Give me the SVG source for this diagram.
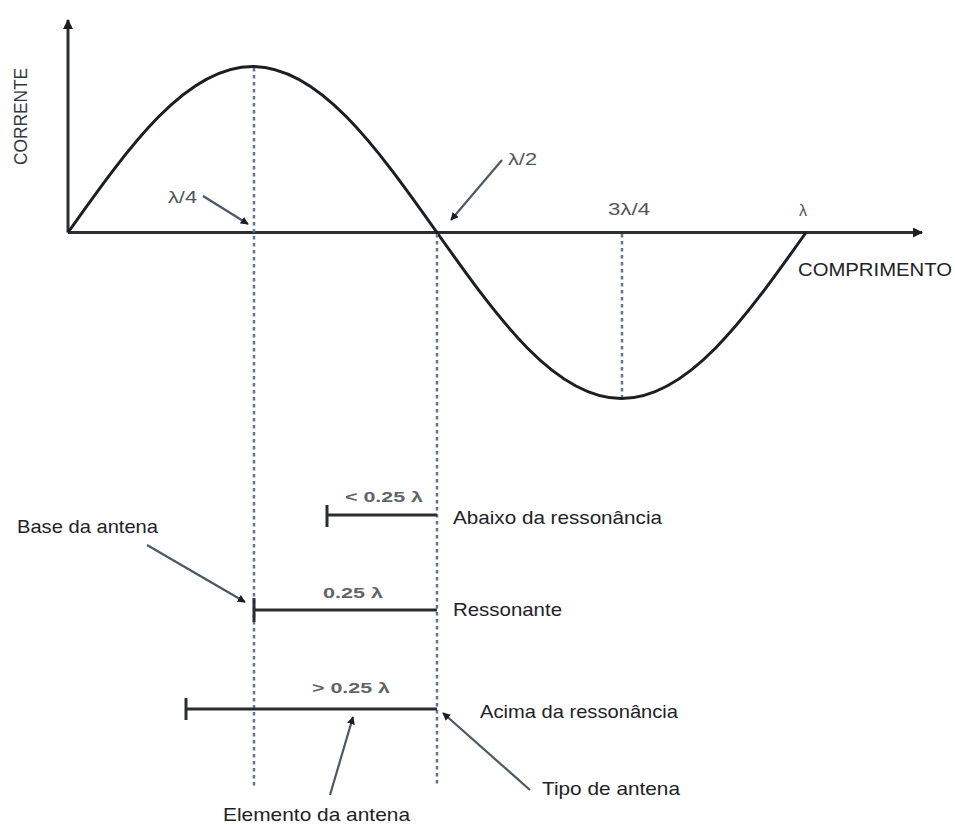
<svg xmlns="http://www.w3.org/2000/svg" width="955" height="825" viewBox="0 0 955 825">
<defs>
<style>
.axis{stroke:#2b2f33;stroke-width:3;fill:none}
.wave{stroke:#1c1f22;stroke-width:3;fill:none}
.dash{stroke:#65758a;stroke-width:2.5;stroke-dasharray:3.5 3.5;fill:none}
.ptr{stroke:#4a5966;stroke-width:2.2;fill:none}
.bar{stroke:#2a2d30;stroke-width:3;fill:none}
.g{font-family:"Liberation Sans",Arial,sans-serif;fill:#50565c;font-size:16px}
.gb{font-family:"Liberation Sans",Arial,sans-serif;fill:#5f656b;font-size:15px;font-weight:bold}
.k{font-family:"Liberation Sans",Arial,sans-serif;fill:#1e2226;font-size:19px}
.ylab{font-family:"Liberation Sans",Arial,sans-serif;fill:#34393e;font-size:19px}
</style>
<marker id="ah" viewBox="0 0 10 10" refX="9" refY="5" markerWidth="8" markerHeight="8" markerUnits="userSpaceOnUse" orient="auto"><path d="M0,0 L10,5 L0,10 z" fill="#1c1f22"/></marker>
<marker id="ax" viewBox="0 0 10 10" refX="9" refY="5" markerWidth="10" markerHeight="10" markerUnits="userSpaceOnUse" orient="auto"><path d="M0,0 L10,5 L0,10 z" fill="#1c1f22"/></marker>
</defs>
<rect width="955" height="825" fill="#ffffff"/>
<g id="axes">
<line class="axis" x1="68" y1="232.5" x2="68" y2="20" marker-end="url(#ax)"/>
<line class="axis" x1="68" y1="232.5" x2="922" y2="232.5" marker-end="url(#ax)"/>
<text class="ylab" transform="translate(27,116.5) rotate(-90)" text-anchor="middle" textLength="97" lengthAdjust="spacingAndGlyphs">CORRENTE</text>
<text class="k" x="798" y="276" textLength="154" lengthAdjust="spacingAndGlyphs">COMPRIMENTO</text>
</g>
<g id="wave">
<path class="wave" d="M68,232.5 C129.68,145.33 186.43,66.5 252.5,66.5 C318.57,66.5 375.32,145.33 437,232.5 C498.68,319.67 555.43,398.5 621.5,398.5 C687.57,398.5 744.32,319.67 806,232.5"/>
</g>
<g id="guides">
<line class="dash" x1="254" y1="68" x2="254" y2="787"/>
<line class="dash" x1="437" y1="234" x2="437" y2="787"/>
<line class="dash" x1="622" y1="234" x2="622" y2="397"/>
</g>
<g id="wave-labels">
<text class="g" x="168" y="203" textLength="29" lengthAdjust="spacingAndGlyphs">λ/4</text>
<text class="g" x="508" y="165" textLength="29" lengthAdjust="spacingAndGlyphs">λ/2</text>
<text class="g" x="608" y="215" textLength="42" lengthAdjust="spacingAndGlyphs">3λ/4</text>
<text class="g" x="799" y="216">λ</text>
</g>
<g id="bar-below">
<line class="bar" x1="327" y1="515" x2="437" y2="515"/>
<line class="bar" x1="327" y1="505" x2="327" y2="527"/>
<text class="gb" x="345" y="502" textLength="78" lengthAdjust="spacingAndGlyphs">&lt; 0.25 λ</text>
<text class="k" x="453" y="524" textLength="209" lengthAdjust="spacingAndGlyphs">Abaixo da ressonância</text>
</g>
<g id="bar-resonant">
<line class="bar" x1="254" y1="610" x2="437" y2="610"/>
<line class="bar" x1="254" y1="598" x2="254" y2="622"/>
<text class="gb" x="323" y="598" textLength="60" lengthAdjust="spacingAndGlyphs">0.25 λ</text>
<text class="k" x="453" y="616" textLength="109" lengthAdjust="spacingAndGlyphs">Ressonante</text>
</g>
<g id="bar-above">
<line class="bar" x1="186" y1="709" x2="437" y2="709"/>
<line class="bar" x1="186" y1="698" x2="186" y2="720"/>
<text class="gb" x="312" y="693" textLength="78" lengthAdjust="spacingAndGlyphs">&gt; 0.25 λ</text>
<text class="k" x="480" y="718" textLength="198" lengthAdjust="spacingAndGlyphs">Acima da ressonância</text>
</g>
<g id="annotations">
<text class="k" x="17" y="533" textLength="141" lengthAdjust="spacingAndGlyphs">Base da antena</text>
<text class="k" x="542" y="795" textLength="138" lengthAdjust="spacingAndGlyphs">Tipo de antena</text>
<text class="k" x="223" y="821" textLength="187" lengthAdjust="spacingAndGlyphs">Elemento da antena</text>
</g>
<g id="connectors">
<line class="ptr" x1="203" y1="196" x2="248" y2="224" marker-end="url(#ah)"/>
<line class="ptr" x1="502" y1="160" x2="451" y2="220" marker-end="url(#ah)"/>
<line class="ptr" x1="147" y1="545" x2="245" y2="602" marker-end="url(#ah)"/>
<line class="ptr" x1="330" y1="795" x2="353" y2="717" marker-end="url(#ah)"/>
<line class="ptr" x1="530" y1="790" x2="443" y2="713" marker-end="url(#ah)"/>
</g>
</svg>
